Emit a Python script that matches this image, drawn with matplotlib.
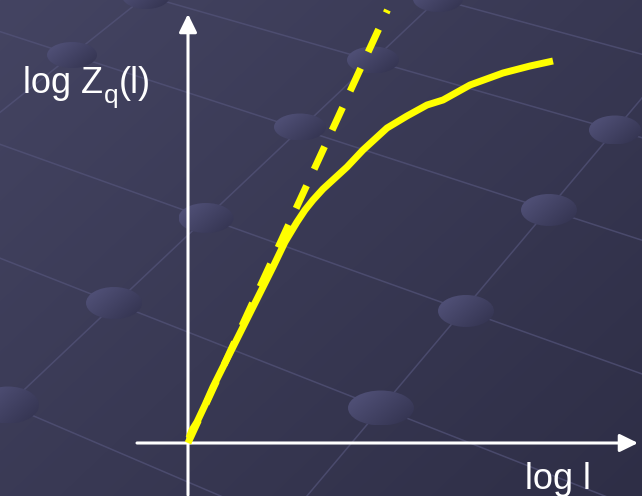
import numpy as np
import matplotlib
matplotlib.use('Agg')
import matplotlib.pyplot as plt
from matplotlib.patches import Ellipse
from matplotlib.transforms import offset_copy

plt.rcParams['font.family'] = ['Liberation Sans', 'DejaVu Sans']

# measured curve: log Z_q(l) against log l
log_l = [0.01, 0.04, 0.09, 0.17, 0.25, 0.35, 0.45, 0.55, 0.65, 0.75, 0.85,
         0.97, 1.09, 1.17, 1.25, 1.35, 1.47, 1.59, 1.75, 1.99, 2.19, 2.39,
         2.55, 2.82, 3.15, 3.42, 3.65]
log_Z = [0.05, 0.13, 0.21, 0.38, 0.56, 0.76, 0.96, 1.16, 1.36, 1.56, 1.76,
         2.01, 2.21, 2.33, 2.43, 2.54, 2.65, 2.76, 2.93, 3.15, 3.27, 3.38,
         3.43, 3.58, 3.70, 3.77, 3.82]

# straight small-l asymptote
fit_l = [0.0, 1.995]
fit_Z = [0.0, 4.33]

x_label = 'log l'
y_label_parts = ['log Z', 'q', '(l)']

# slide backdrop: perspective grid with round studs (pixel units)
grid_lines = [
    ((146, -4), (72, 55)),
    ((438, -1), (8, 405)),
    ((615, 130), (381, 408)),
    ((438, -1), (615, 47)),
    ((146, -4), (615, 130)),
    ((72, 55), (549, 210)),
    ((206, 218), (466, 311)),
    ((114, 303), (381, 408)),
    ((8, 405), (300, 530)),
]
studs = [  # cx, cy, w, h
    (146, -4, 48, 26), (438, -1, 50, 26), (72, 55, 50, 26),
    (373, 60, 52, 27), (300, 127, 52, 27), (615, 130, 52, 29),
    (206, 218, 55, 30), (549, 210, 56, 32), (114, 303, 56, 32),
    (466, 311, 56, 32), (8, 405, 62, 37), (381, 408, 66, 35),
]

W, H = 642, 496
fig = plt.figure(figsize=(W / 100, H / 100), dpi=100)

bg = fig.add_axes([0, 0, 1, 1])
bg.set_xlim(0, W)
bg.set_ylim(H, 0)
bg.axis('off')

yy, xx = np.mgrid[0:H, 0:W]
t = (xx / W * 0.55 + yy / H * 0.45)
c0 = np.array([68, 68, 98]) / 255
c1 = np.array([46, 46, 70]) / 255
grad = c0[None, None, :] * (1 - t[..., None]) + c1[None, None, :] * t[..., None]
bg.imshow(grad, extent=(0, W, H, 0), aspect='auto', zorder=0)


def extend(p, q):
    (x0, y0), (x1, y1) = p, q
    d = np.array([x1 - x0, y1 - y0], float)
    a = np.array([x0, y0], float)
    return np.array([a - 3 * d, a + 4 * d])


for p, q in grid_lines:
    seg = extend(p, q)
    bg.plot(seg[:, 0], seg[:, 1], color='#54547a', lw=1.1, alpha=0.7, zorder=1)

sy, sx = np.mgrid[0:1:40j, 0:1:40j]
st = (sx * 0.6 + sy * 0.4)
s0 = np.array([84, 84, 124]) / 255
s1 = np.array([50, 50, 78]) / 255
stud_grad = s0[None, None, :] * (1 - st[..., None]) + s1[None, None, :] * st[..., None]
for cx, cy, w, h in studs:
    e = Ellipse((cx, cy), w, h, facecolor='none', edgecolor='none')
    bg.add_patch(e)
    im = bg.imshow(stud_grad, extent=(cx - w / 2, cx + w / 2, cy + h / 2, cy - h / 2),
                   aspect='auto', zorder=2)
    im.set_clip_path(e)
bg.set_xlim(0, W)
bg.set_ylim(H, 0)

ax = fig.add_axes([0, 0, 1, 1])
ax.patch.set_alpha(0)
ax.set_xlim(-1.88, 4.54)
ax.set_ylim(-0.53, 4.43)
ax.axis('off')

arrow = dict(arrowstyle='-|>,head_length=0.55,head_width=0.27', color='white',
             lw=2.2, shrinkA=0, shrinkB=0, mutation_scale=20)
ax.annotate('', xy=(4.50, 0), xytext=(-0.51, 0), arrowprops=arrow)
ax.annotate('', xy=(0, 4.29), xytext=(0, -0.52), arrowprops=arrow)

ax.plot(fit_l, fit_Z, color='#ffff00', lw=5, dashes=(3.6, 2.6),
        dash_capstyle='butt', zorder=3)
ax.plot(log_l, log_Z, color='#ffff00', lw=5, solid_capstyle='butt',
        solid_joinstyle='round', zorder=4)

# y label built piecewise so the subscript sits low like the slide text
renderer = fig.canvas.get_renderer()
t1 = ax.text(-1.65, 3.50, y_label_parts[0], color='white', fontsize=26, va='baseline')
w1 = t1.get_window_extent(renderer).width
t2 = ax.text(-1.65, 3.50, y_label_parts[1], color='white', fontsize=19, va='baseline',
             transform=offset_copy(ax.transData, fig, x=w1 + 1, y=-10, units='dots'))
w2 = t2.get_window_extent(renderer).width
ax.text(-1.65, 3.50, y_label_parts[2], color='white', fontsize=26, va='baseline',
        transform=offset_copy(ax.transData, fig, x=w1 + w2 + 1, y=0, units='dots'))

ax.text(3.37, -0.46, x_label, color='white', fontsize=26, va='baseline')

fig.savefig('out.png', dpi=100)
